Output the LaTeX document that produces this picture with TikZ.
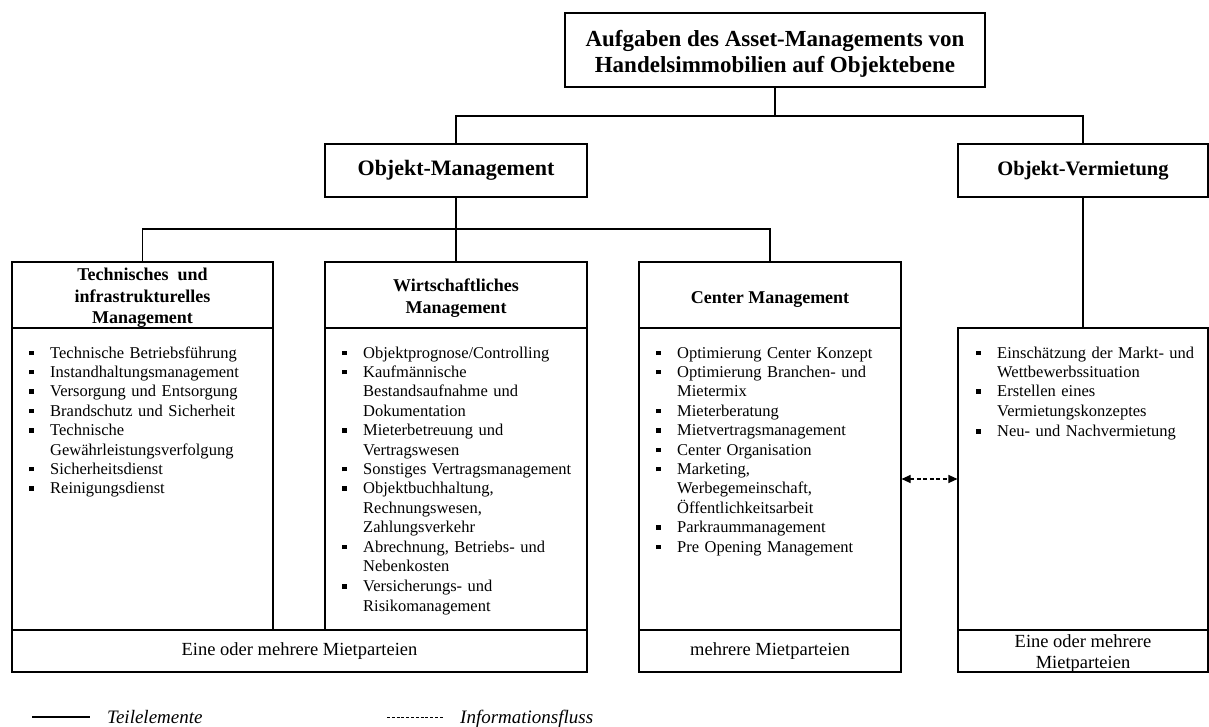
\documentclass[tikz,border=0pt]{standalone}
\usepackage{fontspec}
\setmainfont{Liberation Serif}
\usetikzlibrary{arrows.meta}

% square bullet list entries with hanging continuation lines
\newcommand{\lstbul}{\makebox[21pt][l]{\strut\rule[3pt]{4.5pt}{4.5pt}}}
\newcommand{\lstentry}[1]{\par\lineskip=0pt\relax\noindent\lstbul\parbox[t]{212pt}{\raggedright\strut#1\strut}}
% extra height on a first line pushes centred text a little lower
\newcommand{\lift}[1]{\rule{0pt}{#1}}

\tikzset{
  frame/.style={draw, line width=1.1pt, inner sep=0pt, align=center},
  topfont/.style={font=\fontsize{23}{26}\selectfont\bfseries},
  omfont/.style={font=\fontsize{22}{26}\selectfont\bfseries},
  ovfont/.style={font=\fontsize{20.5}{24}\selectfont\bfseries},
  headfont/.style={font=\fontsize{18}{21.5}\selectfont\bfseries},
  notefont/.style={font=\fontsize{18.5}{21}\selectfont},
  listtext/.style={anchor=north west, inner sep=0pt, text width=235pt, align=left,
                   font=\fontsize{16.5}{19.4}\selectfont},
  link/.style={line width=1.1pt},
  infolink/.style={line width=1.1pt, dash pattern=on 4pt off 2.5pt,
                   {Triangle[length=9pt,width=8pt]}-{Triangle[length=9pt,width=8pt]}},
  legendtext/.style={anchor=base west, inner sep=0pt, font=\fontsize{19}{22}\selectfont\itshape}
}

\begin{document}
\begin{tikzpicture}[x=1pt, y=-1pt]
\useasboundingbox (0,0) rectangle (1209,727);

% top level
\node[frame, topfont, minimum width=420pt, minimum height=74pt] (top) at (775,50)
  {\lift{24pt}Aufgaben des Asset-Managements von\\Handelsimmobilien auf Objektebene};

% second level
\node[frame, omfont, minimum width=262pt, minimum height=53pt] (om) at (456,170.5) {Objekt-Management};
\node[frame, ovfont, minimum width=250pt, minimum height=53pt] (ov) at (1083,170.5) {Objekt-Vermietung};

% column headers
\node[frame, headfont, minimum width=261pt, minimum height=66pt] (tech) at (142.5,295)
  {\lift{18pt}Technisches\ \ und\\infrastrukturelles\\Management};
\node[frame, headfont, minimum width=262pt, minimum height=66pt] (wirt) at (456,295)
  {\lift{19pt}Wirtschaftliches\\Management};
\node[frame, headfont, minimum width=262pt, minimum height=66pt] (cm) at (770,295)
  {\lift{20pt}Center Management};

% list boxes
\node[frame, minimum width=261pt, minimum height=302pt] (techlist) at (142.5,479) {};
\node[frame, minimum width=262pt, minimum height=302pt] (wirtlist) at (456,479) {};
\node[frame, minimum width=262pt, minimum height=302pt] (cmlist) at (770,479) {};
\node[frame, minimum width=250pt, minimum height=302pt] (ovlist) at (1083,479) {};

% tenant boxes
\node[frame, notefont, minimum width=575pt, minimum height=42pt] (tenA) at (299.5,651) {Eine oder mehrere Mietparteien};
\node[frame, notefont, minimum width=262pt, minimum height=42pt] (tenB) at (770,651) {mehrere Mietparteien};
\node[frame, minimum width=250pt, minimum height=42pt] (tenC) at (1083,651) {};
\node[notefont, align=center, inner sep=0pt] (tenCtext) at (1083,654) {Eine oder mehrere\\Mietparteien};

% list contents
\node[listtext] (techitems) at (29,338.4) {%
  \lstentry{Technische Betriebsführung}
  \lstentry{Instandhaltungsmanagement}
  \lstentry{Versorgung und Entsorgung}
  \lstentry{Brandschutz und Sicherheit}
  \lstentry{Technische\\Gewährleistungsverfolgung}
  \lstentry{Sicherheitsdienst}
  \lstentry{Reinigungsdienst}};

\node[listtext] (wirtitems) at (342,338.4) {%
  \lstentry{Objektprognose/Controlling}
  \lstentry{Kaufmännische\\Bestandsaufnahme und\\Dokumentation}
  \lstentry{Mieterbetreuung und\\Vertragswesen}
  \lstentry{Sonstiges Vertragsmanagement}
  \lstentry{Objektbuchhaltung,\\Rechnungswesen,\\Zahlungsverkehr}
  \lstentry{Abrechnung, Betriebs- und\\Nebenkosten}
  \lstentry{Versicherungs- und\\Risikomanagement}};

\node[listtext] (cmitems) at (656,338.4) {%
  \lstentry{Optimierung Center Konzept}
  \lstentry{Optimierung Branchen- und\\Mietermix}
  \lstentry{Mieterberatung}
  \lstentry{Mietvertragsmanagement}
  \lstentry{Center Organisation}
  \lstentry{Marketing,\\Werbegemeinschaft,\\Öffentlichkeitsarbeit}
  \lstentry{Parkraummanagement}
  \lstentry{Pre Opening Management}};

\node[listtext, text width=230pt] (ovitems) at (976,338.4) {%
  \lstentry{Einschätzung der Markt- und\\Wettbewerbssituation}
  \lstentry{Erstellen eines\\Vermietungskonzeptes}
  \lstentry{Neu- und Nachvermietung}};

% tree connectors
\coordinate (bus1) at (775,116);
\coordinate (bus2) at (456,229);
\draw[link] (top.south) -- (bus1);
\draw[link] (om.north) |- (bus1) -| (ov.north);
\draw[link] (om.south) -- (wirt.north);
\draw[link] (tech.north) |- (bus2) -| (cm.north);
\draw[link] (ov.south) -- (ovlist.north);

% information flow
\draw[infolink] (cmlist.east) -- (ovlist.west);

% legend
\coordinate (solidA) at (32,717);
\coordinate (solidB) at (90,717);
\coordinate (dashA) at (387,717);
\coordinate (dashB) at (443,717);
\draw[line width=1.1pt] (solidA) -- (solidB);
\draw[line width=1pt, dash pattern=on 3pt off 1.8pt] (dashA) -- (dashB);
\node[legendtext] (legA) at (107,723.5) {Teilelemente};
\node[legendtext] (legB) at (460,723.5) {Informationsfluss};
\end{tikzpicture}
\end{document}
